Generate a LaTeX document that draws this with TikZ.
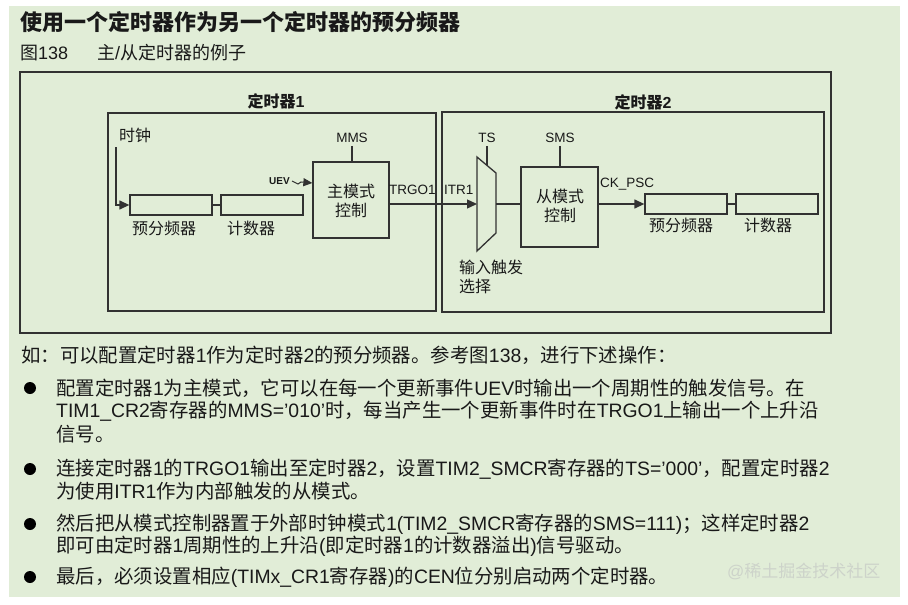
\documentclass[tikz,border=0pt]{standalone}
\usepackage{fontspec}
\setmainfont{Liberation Sans}
\newfontfamily\latf{Liberation Sans}
\newfontfamily\cjkf{Noto Sans CJK SC}
\usetikzlibrary{arrows.meta}
\XeTeXinterchartokenstate=1
\chardef\cjkc=7
\count255="3000 \loop \XeTeXcharclass\count255=\cjkc \advance\count255 by 1 \ifnum\count255<"3040 \repeat
\count255="4E00 \loop \XeTeXcharclass\count255=\cjkc \advance\count255 by 1 \ifnum\count255<"A000 \repeat
\count255="FF00 \loop \XeTeXcharclass\count255=\cjkc \advance\count255 by 1 \ifnum\count255<"FFF0 \repeat
\XeTeXinterchartoks 0 \cjkc = {\cjkf}
\XeTeXinterchartoks 4095 \cjkc = {\cjkf}
\XeTeXinterchartoks \cjkc 0 = {\latf}
\XeTeXinterchartoks 4095 0 = {\latf}
\definecolor{bg}{RGB}{225,237,215}
\definecolor{lc}{RGB}{50,50,50}
\definecolor{tc}{RGB}{25,25,25}
\definecolor{wm}{RGB}{205,211,202}
\begin{document}
\begin{tikzpicture}[x=1pt,y=-1pt,
  box/.style={draw=lc, line width=1.3pt, inner sep=0pt},
  lbl/.style={inner sep=0pt, text=tc, font=\fontsize{16}{19}\selectfont},
  blbl/.style={inner sep=0pt, text=tc, font=\fontsize{16}{19}\selectfont\bfseries},
  sig/.style={inner xsep=0pt, inner ysep=3pt, text=tc, font=\fontsize{13.5}{15}\selectfont},
  wire/.style={draw=lc, line width=1.3pt},
  arr/.style={wire, -{Triangle[length=10pt,width=9pt]}},
  body/.style={anchor=west, inner sep=0pt, text=tc, font=\fontsize{19.4}{21}\selectfont},
  bul/.style={circle, fill=black, draw=none, inner sep=0pt, minimum size=12pt},
]
\useasboundingbox (0,0) rectangle (908,605);
\fill[white] (0,0) rectangle (908,605);
\fill[bg] (9,6) rectangle (900,597);

% headings
\node[body, font=\fontsize{22}{24}\selectfont\bfseries] (title) at (20,22) {使用一个定时器作为另一个定时器的预分频器};
\node[body, font=\fontsize{18}{20}\selectfont] (fig) at (20,53) {图138};
\node[body, font=\fontsize{18}{20}\selectfont] (cap) at (97,53) {主/从定时器的例子};

% frames
\node[box, minimum width=811pt, minimum height=261pt] (outer) at (425.5,202.5) {};
\node[box, minimum width=328pt, minimum height=198pt] (t1) at (272,212) {};
\node[box, minimum width=382pt, minimum height=200pt] (t2) at (633,212) {};
\node[blbl] (t1l) at (276,101) {定时器1};
\node[blbl] (t2l) at (643,102) {定时器2};

% timer 1
\node[box, minimum width=82pt, minimum height=20pt] (psc1) at (171,205) {};
\node[box, minimum width=82pt, minimum height=20pt] (cnt1) at (262,205) {};
\node[box, minimum width=76pt, minimum height=76pt] (master) at (351,200) {};
\node[lbl, align=center] (mtxt) at (351,201) {主模式\\控制};
\node[lbl] (psc1l) at (164,228) {预分频器};
\node[lbl] (cnt1l) at (251,228) {计数器};
\node[lbl, anchor=west] (clk) at (119,135) {时钟};
\node[sig] (mms) at (352,138) {MMS};
\node[inner sep=0pt, text=tc, font=\fontsize{10}{11}\selectfont\bfseries, anchor=east] (uev) at (290,181) {UEV};
\node[sig, anchor=west, inner ysep=0pt] (trgo) at (389,190) {TRGO1};

\coordinate (clkst) at (116,147);
\draw[arr] (clkst) |- (psc1.west);
\draw[wire] (psc1.east) -- (cnt1.west);
\draw[wire] (mms.south) -- (mms.south |- master.north);
\coordinate (uevend) at (master.west |- 0,183);
\draw[draw=lc, line width=1pt, -{Triangle[length=9pt,width=8pt]}] (uev.east) ++(2,0) -- ++(6,3) -- ++(3,-2) -- (uevend);

% mux
\coordinate (m1) at (477,157);
\coordinate (m2) at (496,173);
\coordinate (m3) at (496,233);
\coordinate (m4) at (477,251);
\coordinate (muxL) at (477,204);
\coordinate (muxR) at (496,204);
\coordinate (tsx) at (487,165.4);
\draw[wire, line join=miter] (m1) -- (m2) -- (m3) -- (m4) -- cycle;
\node[sig] (ts) at (487,138) {TS};
\draw[wire] (ts.south) -- (tsx);
\node[sig, anchor=west, inner ysep=0pt] (itr) at (444,190) {ITR1};
\draw[arr] (master.east |- muxL) -- (muxL);
\node[lbl, anchor=west, align=left] (sel) at (459,276.5) {输入触发\\选择};

% timer 2
\node[box, minimum width=77pt, minimum height=80pt] (slave) at (559.5,207) {};
\node[lbl, align=center] (stxt) at (560,205.5) {从模式\\控制};
\node[sig] (sms) at (560,138) {SMS};
\draw[wire] (sms.south) -- (sms.south |- slave.north);
\draw[wire] (muxR) -- (slave.west |- muxR);
\node[box, minimum width=82pt, minimum height=20pt] (psc2) at (686,204) {};
\node[box, minimum width=82pt, minimum height=20pt] (cnt2) at (777,204) {};
\draw[arr] (slave.east |- psc2.west) -- (psc2.west);
\draw[wire] (psc2.east) -- (cnt2.west);
\node[sig, anchor=west, inner ysep=0pt] (ckpsc) at (600,184) {CK\_PSC};
\node[lbl] (psc2l) at (681,225) {预分频器};
\node[lbl] (cnt2l) at (768,225) {计数器};

% body text
\node[body] (intro) at (21,355) {如：可以配置定时器1作为定时器2的预分频器。参考图138，进行下述操作：};
\node[bul] (b1) at (30,388) {};
\node[body] (b1a) at (56,388) {配置定时器1为主模式，它可以在每一个更新事件UEV时输出一个周期性的触发信号。在};
\node[body] (b1b) at (56,411) {TIM1\_CR2寄存器的MMS=’010’时，每当产生一个更新事件时在TRGO1上输出一个上升沿};
\node[body] (b1c) at (56,434) {信号。};
\node[bul] (b2) at (30,469) {};
\node[body] (b2a) at (56,469) {连接定时器1的TRGO1输出至定时器2，设置TIM2\_SMCR寄存器的TS=’000’，配置定时器2};
\node[body] (b2b) at (56,491) {为使用ITR1作为内部触发的从模式。};
\node[bul] (b3) at (30,524) {};
\node[body] (b3a) at (56,524) {然后把从模式控制器置于外部时钟模式1(TIM2\_SMCR寄存器的SMS=111)；这样定时器2};
\node[body] (b3b) at (56,546) {即可由定时器1周期性的上升沿(即定时器1的计数器溢出)信号驱动。};
\node[bul] (b4) at (30,577) {};
\node[body] (b4a) at (56,577) {最后，必须设置相应(TIMx\_CR1寄存器)的CEN位分别启动两个定时器。};
\node[body, text=wm, font=\fontsize{17}{19}\selectfont] (wmk) at (727,571) {@稀土掘金技术社区};
\end{tikzpicture}
\end{document}
